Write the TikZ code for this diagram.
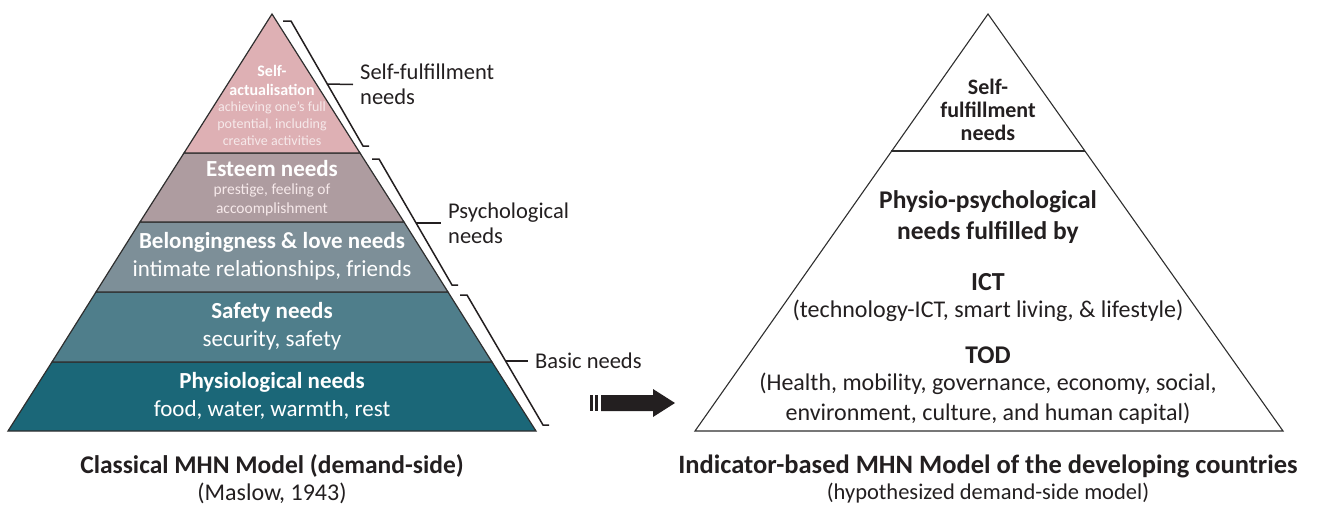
\documentclass[tikz,border=0pt]{standalone}
\usepackage{fontspec}
\setmainfont{Carlito}
\usetikzlibrary{arrows.meta,positioning,calc}
\definecolor{mhnpink}{HTML}{DEB0B4}
\definecolor{mhnmauve}{HTML}{AE9CA0}
\definecolor{mhnslate}{HTML}{7D8F98}
\definecolor{mhnteal}{HTML}{4F7E8B}
\definecolor{mhndeep}{HTML}{1B6778}
\definecolor{mhnink}{HTML}{231F20}
\definecolor{mhnedge}{HTML}{2E2E2E}
\definecolor{mhnpale}{HTML}{F6E9EA}
\newcommand{\fsz}[2]{\fontsize{#1}{#2}\selectfont}

\begin{document}
\begin{tikzpicture}[x=1pt,y=-1pt,
  layer/.style={draw=mhnedge,line width=1.2pt,line join=miter},
  inlayer/.style={font=\fsz{23}{28},text=white,align=center,inner sep=0pt},
  sidelbl/.style={font=\fsz{22.5}{25},text=mhnink,align=left,anchor=west,inner sep=0pt},
  brk/.style={draw=mhnink,line width=1.5pt},
  rtxt/.style={font=\fsz{24}{30},text=mhnink,align=center,inner sep=0pt},
  caption/.style={font=\fsz{23.5}{27},text=mhnink,align=center,inner sep=0pt}]

  \useasboundingbox (0,0) rectangle (1318,504);

  % ---- Classical pyramid layers ------------------------------
  \filldraw[layer,fill=mhndeep]  (52,362) -- (492,362) -- (536,431) -- (8,431) -- cycle;
  \filldraw[layer,fill=mhnteal]  (96,292) -- (448,292) -- (492,362) -- (52,362) -- cycle;
  \filldraw[layer,fill=mhnslate] (140,222) -- (404,222) -- (448,292) -- (96,292) -- cycle;
  \filldraw[layer,fill=mhnmauve] (184,153) -- (360,153) -- (404,222) -- (140,222) -- cycle;
  \filldraw[layer,fill=mhnpink]  (272,14) -- (360,153) -- (184,153) -- cycle;

  % Layer texts
  \node[inlayer,font=\fsz{16}{19}\bfseries] (selftitle) at (272,80.5)
    {Self-\\actualisation};
  \node[inlayer,font=\fsz{14}{17},text=mhnpale] (selfdesc) at (272,124)
    {achieving one's full\\potential, including\\creative activities};
  \node[inlayer,font=\fsz{23}{26}\bfseries] (esteemtitle) at (272,169) {Esteem needs};
  \node[inlayer,font=\fsz{15.5}{19},text=mhnpale] (esteemdesc) at (272,199.5)
    {prestige, feeling of\\accoomplishment};
  \node[inlayer] (belong) at (272,256)
    {\textbf{Belongingness \& love needs}\\intimate relationships, friends};
  \node[inlayer] (safety) at (272,326)
    {\textbf{Safety needs}\\security, safety};
  \node[inlayer] (physio) at (272,395.5)
    {\textbf{Physiological needs}\\food, water, warmth, rest};

  % ---- Brackets and their labels -----------------------------
  \node[sidelbl] (lblself) at (360,84.5) {Self-fulfillment\\needs};
  \node[sidelbl] (lblpsych) at (448,223) {Psychological\\needs};
  \node[sidelbl] (lblbasic) at (535,361) {Basic needs};

  \draw[brk] (283,21) -- (291,21) -- (363,146) -- (369,146);
  \draw[brk] (327,84) -- ([xshift=-7pt]lblself.west);
  \draw[brk] (372,159) -- (379,159) -- (452,285) -- (458,285);
  \draw[brk] (416,223) -- ([xshift=-7pt]lblpsych.west);
  \draw[brk] (460,295) -- (467,295) -- (543,425) -- (549,425);
  \draw[brk] (505,361) -- ([xshift=-7pt]lblbasic.west);

  % ---- Block arrow ------------------------------------------
  \fill[mhnink] (590,395) rectangle (593,411);
  \fill[mhnink] (595,395) rectangle (598,411);
  \fill[mhnink] (601,395) -- (653,395) -- (653,389) -- (675,403)
    -- (653,417) -- (653,411) -- (601,411) -- cycle;

  % ---- Indicator-based pyramid -------------------------------
  \draw[mhnedge,line width=1.1pt,line join=miter]
    (988,14) -- (1283,431) -- (695,431) -- cycle;
  \draw[mhnedge,line width=1.1pt] (891,151) -- (1085,151);

  \node[rtxt,font=\fsz{22}{23}\bfseries] (selfneeds) at (988,110)
    {Self-\\fulfillment\\needs};
  \node[rtxt,font=\fsz{25.5}{31}\bfseries] (physpsy) at (988,217.5)
    {Physio-psychological\\needs fulfilled by};
  \node[rtxt,font=\fsz{26}{30}\bfseries] (ict) at (988,282) {ICT};
  \node[rtxt] (ictdesc) at (988,311)
    {(technology-ICT, smart living, \& lifestyle)};
  \node[rtxt,font=\fsz{25.5}{30}\bfseries] (tod) at (988,355) {TOD};
  \node[rtxt] (toddesc) at (988,399)
    {(Health, mobility, governance, economy, social,\\environment, culture, and human capital)};

  % ---- Captions ---------------------------------------------
  \node[caption,font=\fsz{25.5}{27}\bfseries] (capleft) at (272,466)
    {Classical MHN Model (demand-side)};
  \node[caption,font=\fsz{24}{26}] (subleft) at (272,493) {(Maslow, 1943)};
  \node[caption,font=\fsz{26.5}{27}\bfseries] (capright) at (988,466)
    {Indicator-based MHN Model of the developing countries};
  \node[caption,font=\fsz{22.5}{26}] (subright) at (988,493)
    {(hypothesized demand-side model)};

\end{tikzpicture}
\end{document}
